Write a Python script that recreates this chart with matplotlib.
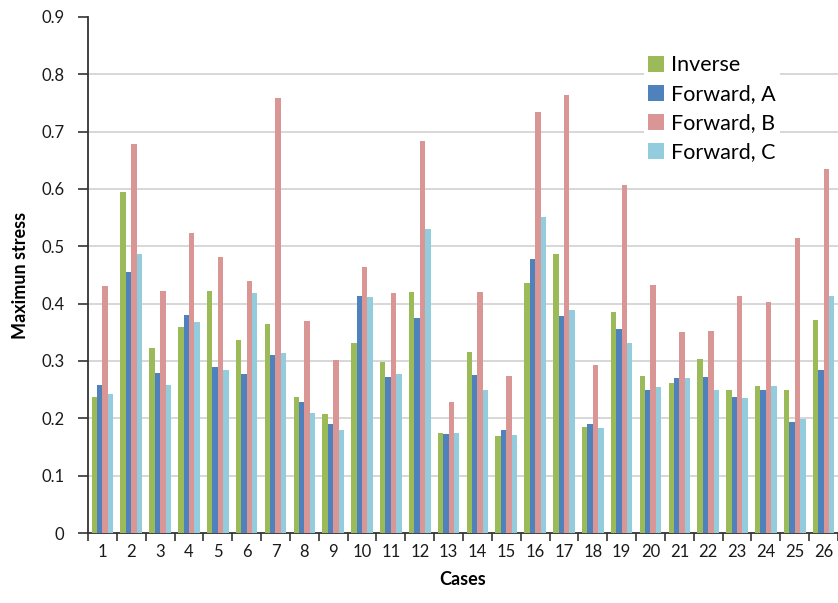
import numpy as np
import matplotlib.pyplot as plt

plt.rcParams['font.family'] = ['Lato', 'DejaVu Sans']

# values
cases = list(range(1, 27))
inverse = [0.238, 0.594, 0.322, 0.360, 0.422, 0.336, 0.365, 0.237, 0.207, 0.332,
           0.299, 0.420, 0.175, 0.316, 0.170, 0.436, 0.487, 0.185, 0.386, 0.274,
           0.262, 0.304, 0.250, 0.256, 0.250, 0.372]
forward_a = [0.259, 0.455, 0.279, 0.380, 0.290, 0.277, 0.311, 0.228, 0.190, 0.413,
             0.272, 0.375, 0.172, 0.276, 0.180, 0.477, 0.378, 0.191, 0.356, 0.249,
             0.270, 0.272, 0.238, 0.249, 0.193, 0.284]
forward_b = [0.431, 0.679, 0.422, 0.523, 0.482, 0.440, 0.759, 0.369, 0.302, 0.464,
             0.418, 0.683, 0.228, 0.420, 0.274, 0.735, 0.763, 0.293, 0.607, 0.432,
             0.350, 0.352, 0.413, 0.402, 0.514, 0.634]
forward_c = [0.243, 0.487, 0.259, 0.368, 0.284, 0.418, 0.314, 0.209, 0.179, 0.412,
             0.278, 0.531, 0.175, 0.249, 0.171, 0.551, 0.389, 0.184, 0.331, 0.255,
             0.270, 0.250, 0.236, 0.257, 0.199, 0.414]

series = [('Inverse', inverse, '#9BBB59'),
          ('Forward, A', forward_a, '#4F81BD'),
          ('Forward, B', forward_b, '#D99694'),
          ('Forward, C', forward_c, '#93CDDD')]

fig = plt.figure(figsize=(8.38, 6.03), dpi=100)
ax = fig.add_axes([0.105, 0.116, 0.895, 0.856])

x = np.array(cases)
w = 0.1875
for i, (name, vals, col) in enumerate(series):
    ax.bar(x + (i - 1.5) * w, vals, width=w, color=col, label=name, zorder=3)

# gridlines (no line at the top)
for g in np.arange(0.1, 0.85, 0.1):
    ax.axhline(g, color='#D4D4D4', lw=1.3, zorder=1)

ax.set_xlim(0.5, 26.2)
ax.set_ylim(0, 0.9)
ax.set_yticks(np.arange(0, 0.91, 0.1))
ax.set_yticklabels(['0'] + ['%.1f' % v for v in np.arange(0.1, 0.91, 0.1)])
ax.set_xticks(x)
ax.set_xticklabels([str(c) for c in cases])
ax.set_xticks(np.arange(0.5, 26.6, 1), minor=True)
ax.tick_params(axis='x', which='major', length=0, pad=8, labelsize=12)
ax.tick_params(axis='x', which='minor', length=6, width=1.2, color='#333333')
ax.tick_params(axis='y', length=7, width=1.2, color='#333333', pad=10, labelsize=12)
for lab in ax.get_xticklabels() + ax.get_yticklabels():
    lab.set_color('#1a1a1a')

for s in ['top', 'right']:
    ax.spines[s].set_visible(False)
for s in ['left', 'bottom']:
    ax.spines[s].set_color('#333333')
    ax.spines[s].set_linewidth(1.3)

ax.set_ylabel('Maximun stress', fontsize=13, fontweight='bold', labelpad=9)
ax.set_xlabel('Cases', fontsize=13, fontweight='bold', labelpad=8)

leg = ax.legend(loc='upper left', bbox_to_anchor=(0.727, 0.955), fontsize=15.5,
                frameon=True, facecolor='white', edgecolor='none', framealpha=1,
                handlelength=0.75, handleheight=0.75, handletextpad=0.3,
                labelspacing=0.42, borderpad=0.2, fancybox=False)

fig.savefig('out.png', dpi=100)
